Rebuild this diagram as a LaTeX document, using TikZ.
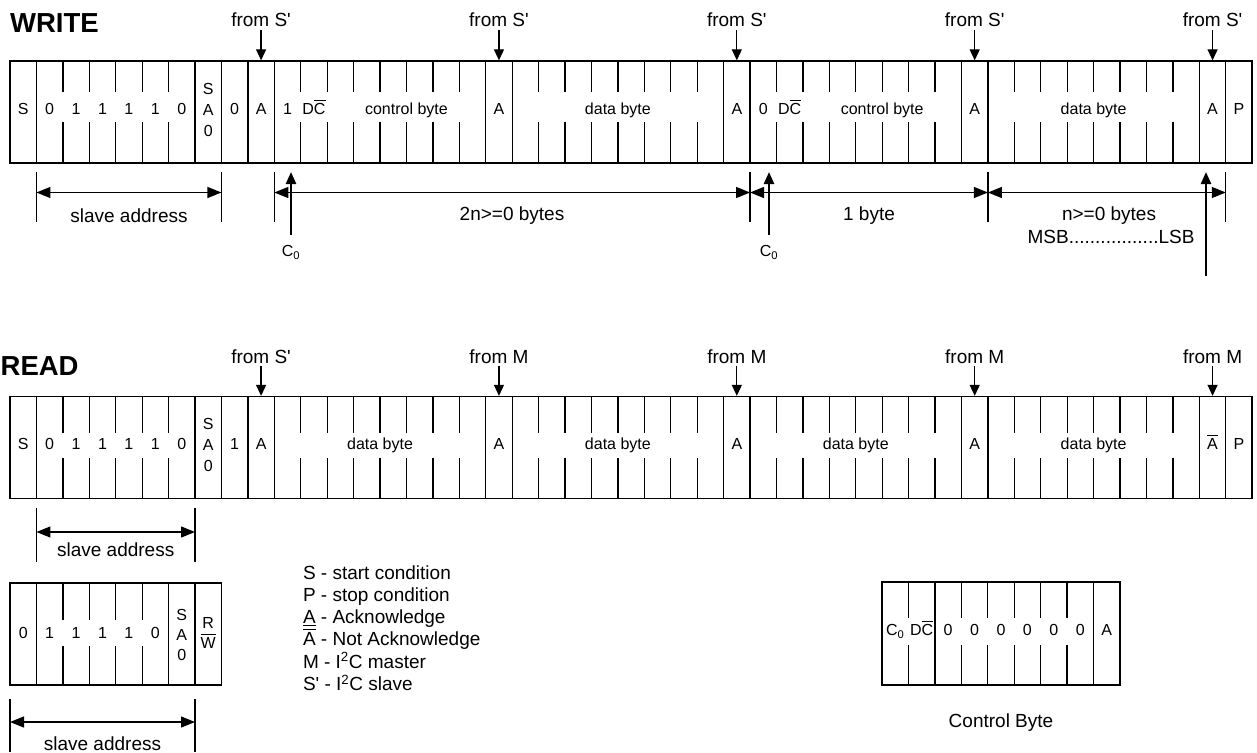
\documentclass[tikz,border=0pt]{standalone}
\usepackage{fontspec}
\setmainfont{Liberation Sans}
\usetikzlibrary{arrows.meta}

\newcommand{\ovline}[1]{\vbox{\hrule height 1.2pt\kern 2.5pt\hbox{#1}}}
\newcommand{\unline}[1]{\vtop{\hbox{#1}\kern 1.5pt\hrule height 1.2pt}}
\newcommand{\sq}{\textquotesingle}

\begin{document}
\begin{tikzpicture}[x=1pt, y=-1pt, line width=1.3pt,
    frame/.style={draw, inner sep=0pt, minimum width=#1, minimum height=102pt},
    cell/.style={font=\fontsize{16}{19}\selectfont, inner sep=0pt, text height=11.5pt, text depth=0pt},
    cellstack/.style={font=\fontsize{16}{21}\selectfont, inner sep=0pt, align=center},
    lbl/.style={font=\fontsize{19}{22}\selectfont, inner sep=0pt, outer sep=3pt, anchor=base},
    title/.style={font=\fontsize{27.5}{30}\selectfont\bfseries, inner sep=0pt, anchor=base west},
    fromarr/.style={-{Triangle[length=11pt,width=10pt]}},
    uparr/.style={-{Triangle[length=12pt,width=10.5pt]}},
    dimarr/.style={{Triangle[length=14pt,width=11pt]}-{Triangle[length=14pt,width=11pt]}}]

  \useasboundingbox (0,0) rectangle (1257,752);

  % titles
  \node[title] (wtitle) at (9.5,32.5) {WRITE};
  \node[title] (rtitle) at (0,375) {READ};

  % the two long frames
  \node[frame=1242pt] (wframe) at (631,112) {};
  \node[frame=1242pt] (rframe) at (631,447.5) {};
  \foreach \top/\ga/\gb in {61/92/122, 396.5/433/458} {
    \foreach \i in {1,7,8,9,10,18,19,27,28,36,37,45,46}
      \draw ({10+\i*26.43},\top) -- ++(0,102);
    \foreach \s/\n in {1/5, 10/7, 19/7, 28/7, 37/7}
      \foreach \k in {1,...,\n} {
        \draw ({10+(\s+\k)*26.43},\top) -- ({10+(\s+\k)*26.43},\ga);
        \draw ({10+(\s+\k)*26.43},\gb) -- ({10+(\s+\k)*26.43},{\top+102});
      }
  }

  % write row
  \foreach \t [count=\i from 0] in {S,0,1,1,1,1,0}
    \node[cell] (w\i) at ({10+(\i+0.5)*26.43},109) {\t};
  \node[cellstack] (wsa) at ({10+7.5*26.43},110) {S\\A\\0};
  \foreach \i/\t in {8/0, 9/A, 10/1, 11/D\ovline{C}, 18/A, 27/A, 28/0, 29/D\ovline{C}, 36/A, 45/A, 46/P}
    \node[cell] (w\i) at ({10+(\i+0.5)*26.43},109) {\t};
  \node[cell] (wctl1) at ({10+15*26.43},109) {control byte};
  \node[cell] (wdat1) at ({10+23*26.43},109) {data byte};
  \node[cell] (wctl2) at ({10+33*26.43},109) {control byte};
  \node[cell] (wdat2) at ({10+41*26.43},109) {data byte};

  \foreach \i [count=\k] in {9,18,27,36,45} {
    \node[lbl] (wf\k) at ({10+(\i+0.5)*26.43},27) {from S\sq};
    \draw[fromarr] (wf\k) -- (wf\k |- wframe.north);
  }

  % write dimensions
  \foreach \i in {1,8,10,28,37,46}
    \draw ({10+\i*26.43},172) -- ({10+\i*26.43},222);
  \coordinate (wd1) at ({10+1*26.43},192.5);
  \coordinate (wd8) at ({10+8*26.43},192.5);
  \coordinate (wd10) at ({10+10*26.43},192.5);
  \coordinate (wd28) at ({10+28*26.43},192.5);
  \coordinate (wd37) at ({10+37*26.43},192.5);
  \coordinate (wd46) at ({10+46*26.43},192.5);
  \draw[dimarr] (wd1) -- (wd8);
  \draw[dimarr] (wd10) -- (wd28);
  \draw[dimarr] (wd28) -- (wd37);
  \draw[dimarr] (wd37) -- (wd46);
  \node[lbl] (wsal) at (129,222) {slave address};
  \node[lbl] (w2nl) at (512,220) {2n>=0 bytes};
  \node[lbl] (w1bl) at (869,220) {1 byte};
  \node[lbl] (wnbl) at (1109,220) {n>=0 bytes};
  \node[lbl] (wmsb) at (1111,243) {MSB.................LSB};

  % C0 pointers
  \node[cell] (c0a) at (291,251) {C\textsubscript{0}};
  \node[cell] (c0b) at (769,251) {C\textsubscript{0}};
  \draw[uparr, shorten >=8.5pt] ([yshift=10pt]c0a.north) -- (c0a.north |- wframe.south);
  \draw[uparr, shorten >=8.5pt] ([yshift=10pt]c0b.north) -- (c0b.north |- wframe.south);
  \coordinate (lsbend) at (1206,276);
  \draw[uparr, shorten >=8.5pt] (lsbend) -- (lsbend |- wframe.south);

  % read row
  \foreach \t [count=\i from 0] in {S,0,1,1,1,1,0}
    \node[cell] (r\i) at ({10+(\i+0.5)*26.43},444) {\t};
  \node[cellstack] (rsa) at ({10+7.5*26.43},445) {S\\A\\0};
  \foreach \i/\t in {8/1, 9/A, 18/A, 27/A, 36/A, 45/\ovline{A}, 46/P}
    \node[cell] (r\i) at ({10+(\i+0.5)*26.43},444) {\t};
  \foreach \c [count=\k] in {14,23,32,41}
    \node[cell] (rdat\k) at ({10+\c*26.43},444) {data byte};

  \foreach \i/\t [count=\k] in {9/from S\sq, 18/from M, 27/from M, 36/from M, 45/from M} {
    \node[lbl] (rf\k) at ({10+(\i+0.5)*26.43},363) {\t};
    \draw[fromarr] (rf\k) -- (rf\k |- rframe.north);
  }

  % read dimension
  \foreach \i in {1,7}
    \draw ({10+\i*26.43},508) -- ({10+\i*26.43},562);
  \coordinate (rd1) at ({10+1*26.43},532);
  \coordinate (rd7) at ({10+7*26.43},532);
  \draw[dimarr] (rd1) -- (rd7);
  \node[lbl] (rsal) at (115.7,556) {slave address};

  % address byte
  \node[frame=211.4pt] (aframe) at ({10+4*26.43},634) {};
  \foreach \i in {1,6,7}
    \draw ({10+\i*26.43},583) -- ++(0,102);
  \foreach \i in {2,...,5} {
    \draw ({10+\i*26.43},583) -- ({10+\i*26.43},620);
    \draw ({10+\i*26.43},646) -- ({10+\i*26.43},685);
  }
  \foreach \t [count=\i from 0] in {0,1,1,1,1,0}
    \node[cell] (a\i) at ({10+(\i+0.5)*26.43},633) {\t};
  \node[cellstack, font=\fontsize{16}{20}\selectfont] (asa) at ({10+6.5*26.43},635) {S\\A\\0};
  \node[cellstack, font=\fontsize{16}{20}\selectfont] (arw) at ({10+7.5*26.43},633) {R\\\ovline{W}};

  \foreach \i in {0,7}
    \draw ({10+\i*26.43},699) -- ({10+\i*26.43},752);
  \coordinate (ad0) at (10,722);
  \coordinate (ad7) at ({10+7*26.43},722);
  \draw[dimarr] (ad0) -- (ad7);
  \node[lbl] (asal) at (102.5,750) {slave address};

  % legend
  \foreach \t [count=\k] in {S - start condition, P - stop condition, \unline{A} - Acknowledge, \ovline{A} - Not Acknowledge, M - I\textsuperscript{2}C master, S\sq{} - I\textsuperscript{2}C slave}
    \node[lbl, anchor=base west] (leg\k) at (300,{579+22.3*(\k-1)}) {\t};

  % control byte
  \node[frame=237.9pt, minimum height=103pt] (cframe) at ({882+4.5*26.43},633.5) {};
  \foreach \i in {2,8}
    \draw ({882+\i*26.43},582) -- ++(0,103);
  \foreach \i in {1,3,4,5,6,7} {
    \draw ({882+\i*26.43},582) -- ({882+\i*26.43},618);
    \draw ({882+\i*26.43},645) -- ({882+\i*26.43},685);
  }
  \foreach \t [count=\i from 0] in {C\textsubscript{0}, D\ovline{C}, 0, 0, 0, 0, 0, 0, A}
    \node[cell] (cb\i) at ({882+(\i+0.5)*26.43},630) {\t};
  \node[lbl] (cbl) at (1001,727) {Control Byte};
\end{tikzpicture}
\end{document}
